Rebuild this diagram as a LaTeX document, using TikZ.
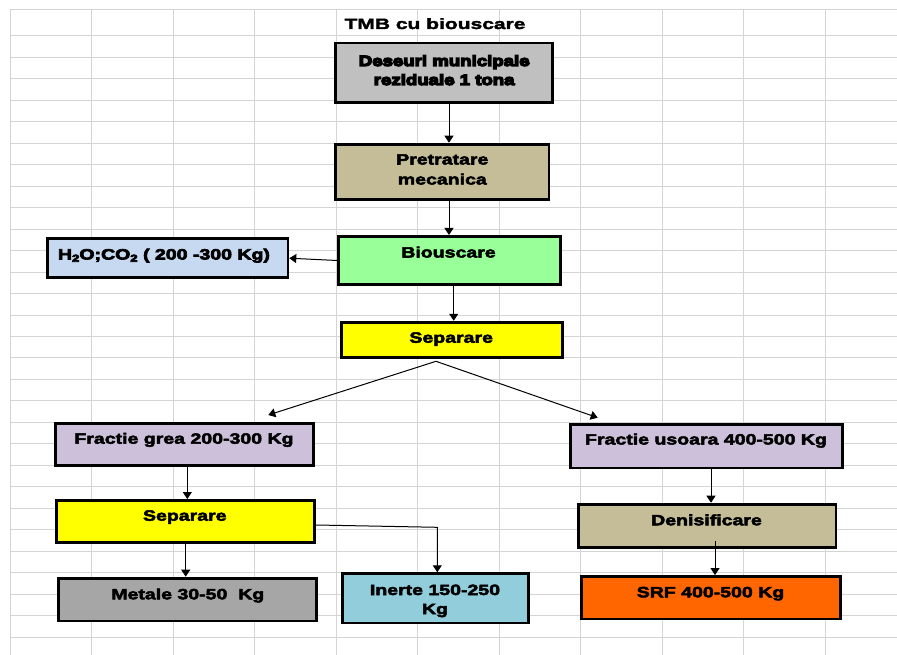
\documentclass[tikz,border=0pt]{standalone}
\usepackage{fontspec}
\usetikzlibrary{arrows.meta,calc}
\newfontfamily\lab{Liberation Sans}[FakeStretch=1.31,BoldFeatures={FakeStretch=1.31}]
\newfontfamily\heavy{Liberation Sans}[FakeStretch=1.25,BoldFeatures={FakeStretch=1.25}]
\newfontfamily\ttl{Liberation Sans}[FakeStretch=1.41,BoldFeatures={FakeStretch=1.41}]
\newcommand\hv[2]{\special{pdf:literal direct 2 Tr #1 w 0 G}#2\special{pdf:literal direct 0 Tr}}
\definecolor{gridc}{HTML}{D4D4D4}
\definecolor{cgray}{HTML}{C0C0C0}
\definecolor{ctan}{HTML}{C4BD97}
\definecolor{cgreen}{HTML}{99FF99}
\definecolor{cblue}{HTML}{C6D9F1}
\definecolor{cyel}{HTML}{FFFF00}
\definecolor{clil}{HTML}{CCC0DA}
\definecolor{cdgray}{HTML}{A6A6A6}
\definecolor{ccyan}{HTML}{92CDDC}
\definecolor{corange}{HTML}{FF6600}
\begin{document}
\begin{tikzpicture}[x=1pt,y=-1pt,
  bx/.style 2 args={draw=black, line width=2.8pt, inner sep=0pt, minimum width=#1pt, minimum height=#2pt},
  txt/.style={anchor=base, inner sep=0pt, font=\lab\bfseries\fontsize{14.9}{17}\selectfont},
  htxt/.style={anchor=base, inner sep=0pt, font=\heavy\bfseries\fontsize{14.9}{17}\selectfont},
  conn/.style={line width=1pt, -{Triangle[length=7pt,width=9pt]}},
  gridline/.style={gridc, line width=1.4pt}]
\useasboundingbox (0,0) rectangle (897,655);
\fill[white] (0,0) rectangle (897,655);
% spreadsheet grid
\foreach \k in {0,...,10} {
  \draw[gridline] ({int(10+81.55*\k)+0.5},9.5) -- ({int(10+81.55*\k)+0.5},655);
}
\draw[gridline] (10,9.5) -- (897,9.5);
\foreach \k in {0,...,28} {
  \draw[gridline] (10,{int(35.7+21.486*\k)+0.5}) -- (897,{int(35.7+21.486*\k)+0.5});
}
% title
\node[anchor=base, inner sep=0pt, font=\ttl\bfseries\fontsize{14.9}{17}\selectfont] (title) at (435,29) {\hv{0.35}{TMB cu biouscare}};
% boxes
\node[bx={217}{59.8}, fill=cgray] (b1) at (444.2,73.0) {};
\node[bx={213.2}{55.5}, fill=ctan] (b2) at (442.3,171.9) {};
\node[bx={221.6}{48.2}, fill=cgreen] (bio) at (449.5,260.5) {};
\node[bx={240.8}{38.9}, fill=cblue] (h2o) at (167.5,258.2) {};
\node[bx={221.2}{35.5}, fill=cyel] (sep1) at (452,339.9) {};
\node[bx={258.2}{42.2}, fill=clil] (fg) at (184.5,444.5) {};
\node[bx={271.9}{43.8}, fill=clil] (fu) at (706.7,446) {};
\node[bx={258.2}{42.2}, fill=cyel] (sep2) at (185.5,521.5) {};
\node[bx={257.9}{42.8}, fill=cdgray] (met) at (187.7,599.5) {};
\node[bx={186.2}{49.2}, fill=ccyan] (ine) at (435.5,598.3) {};
\node[bx={257.8}{43.2}, fill=ctan] (den) at (707,525.7) {};
\node[bx={258.9}{42.5}, fill=corange] (srf) at (710.9,597.7) {};
% texts
\node[htxt] (t1a) at (444.2,66) {\hv{1.3}{Deseuri municipale}};
\node[htxt] (t1b) at (444.2,85) {\hv{1.3}{reziduale 1 tona}};
\node[txt] (t2a) at (442.3,164.5) {\hv{0.5}{Pretratare}};
\node[txt] (t2b) at (442.3,184.5) {\hv{0.5}{mecanica}};
\node[txt] (t3) at (448.5,257.5) {\hv{0.5}{Biouscare}};
\node[txt] (t4) at (164,259.5) {\hv{0.7}{H\raisebox{-2.2pt}{\fontsize{10}{11}\selectfont 2}O;CO\raisebox{-2.2pt}{\fontsize{10}{11}\selectfont 2} ( 200 -300 Kg)}};
\node[txt] (t5) at (451.2,342.7) {\hv{0.5}{Separare}};
\node[txt] (t6) at (184,443.7) {\hv{0.5}{Fractie grea 200-300 Kg}};
\node[txt] (t7) at (706,444.5) {\hv{0.5}{Fractie usoara 400-500 Kg}};
\node[txt] (t8) at (184.8,520.7) {\hv{0.5}{Separare}};
\node[txt] (t9) at (187.8,599.3) {\hv{0.5}{Metale 30-50\ \ Kg}};
\node[txt] (t10a) at (435,595) {\hv{0.5}{Inerte 150-250}};
\node[txt] (t10b) at (435,614) {\hv{0.5}{Kg}};
\node[txt] (t11) at (706.5,525.3) {\hv{0.5}{Denisificare}};
\node[txt] (t12) at (710.5,597.3) {\hv{0.5}{SRF 400-500 Kg}};
% connector points
\coordinate (s1) at (436,361.3);
\coordinate (fgtip) at (268.3,415);
\coordinate (futip) at (597.7,417.7);
\coordinate (elb) at (437.3,527.3);
\coordinate (d0) at (715,541);
% connectors
\draw[conn] (449,0 |- b1.south) -- (449,0 |- b2.north);
\draw[conn] (449,0 |- b2.south) -- (449,0 |- bio.north);
\draw[conn] (bio.west) -- (h2o.east);
\draw[conn] (453.7,0 |- bio.south) -- (453.7,0 |- sep1.north);
\draw[conn] (s1) -- (fgtip);
\draw[conn] (s1) -- (futip);
\draw[conn] (187.3,0 |- fg.south) -- (187.3,0 |- sep2.north);
\draw[conn] (185.7,0 |- sep2.south) -- (185.7,0 |- met.north);
\draw[conn] ($(sep2.east)+(0,3.5)$) -- (elb) -- (elb |- ine.north);
\draw[conn] (711,0 |- fu.south) -- (711,0 |- den.north);
\draw[conn] (d0) -- (d0 |- srf.north);
\end{tikzpicture}
\end{document}
